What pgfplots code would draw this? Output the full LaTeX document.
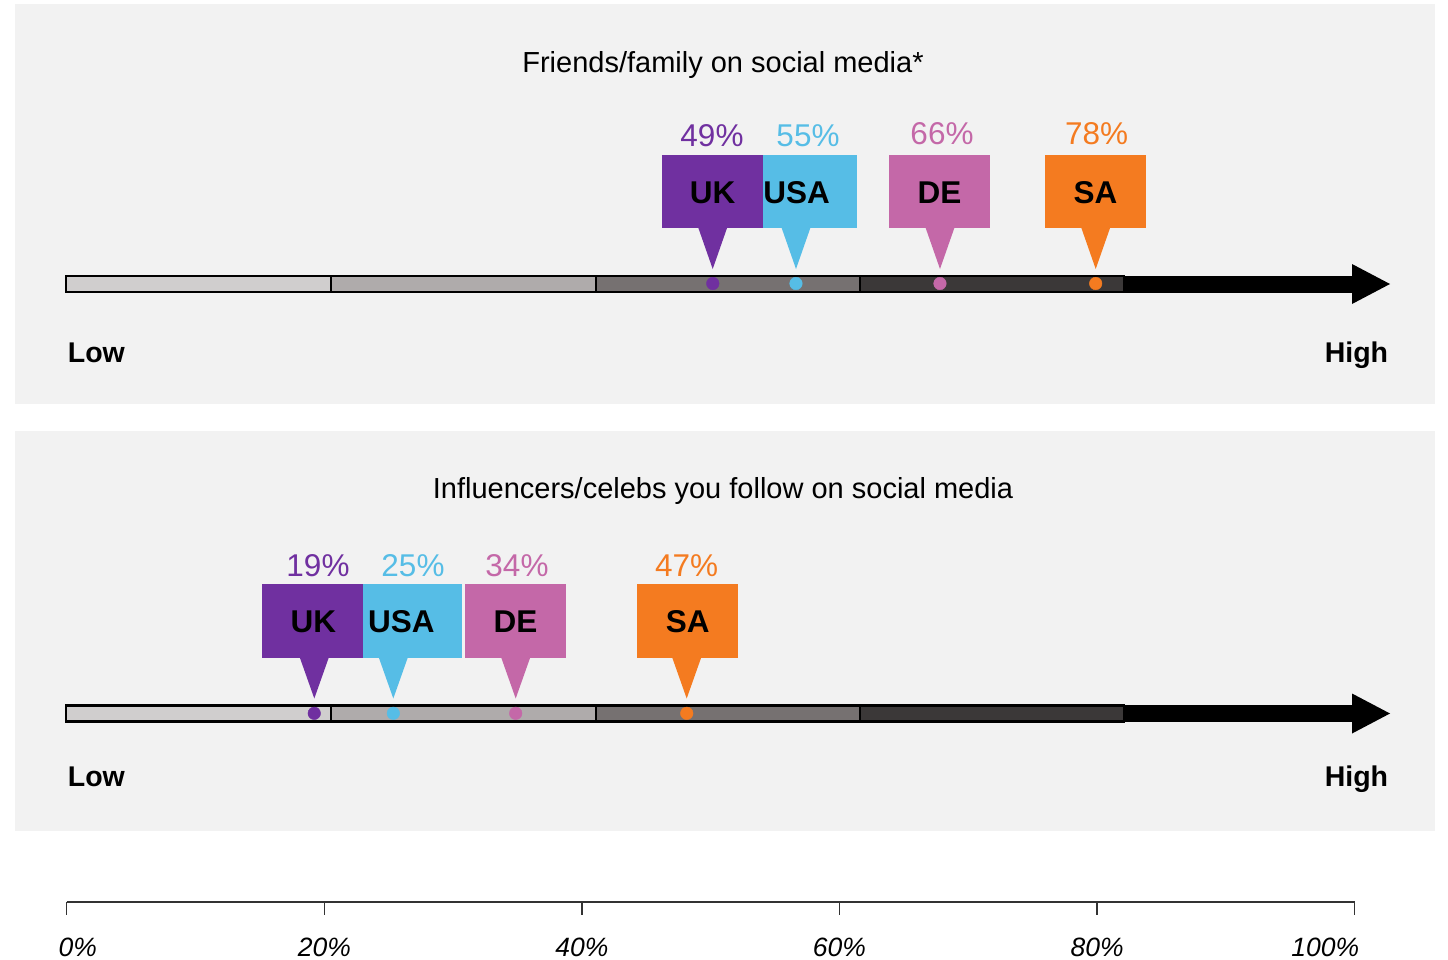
\documentclass[border=0pt]{standalone}
\usepackage{pgfplots}
\pgfplotsset{compat=1.18}
\usepackage{pgfplotstable}
\usepackage{fontspec}
\setmainfont{Liberation Sans}
\definecolor{bg}{HTML}{F2F2F2}
\definecolor{cUK}{HTML}{7030A0}
\definecolor{cUSA}{HTML}{56BDE6}
\definecolor{cDE}{HTML}{C468A8}
\definecolor{cSA}{HTML}{F47B20}
\definecolor{sA}{HTML}{D0CECE}
\definecolor{sB}{HTML}{AFABAB}
\definecolor{sC}{HTML}{767171}
\definecolor{sD}{HTML}{3B3838}

% value = printed share (%), pos = position of the marker on the 0-100 scale
\pgfplotstableread{
c value pos
UK 49 50.16
USA 55 56.62
DE 66 67.80
SA 78 79.89
}\friends
\pgfplotstableread{
c value pos
UK 19 19.22
USA 25 25.36
DE 34 34.86
SA 47 48.14
}\influencers

% bar with segments, dy = vertical offset of the panel
\newcommand{\scalebar}[1]{%
  \fill[sA] (66,{276+#1}) rectangle (331,{292+#1});
  \fill[sB] (331,{276+#1}) rectangle (596,{292+#1});
  \fill[sC] (596,{276+#1}) rectangle (860,{292+#1});
  \fill[sD] (860,{276+#1}) rectangle (1124,{292+#1});
  \draw[line width=2.4pt] (66,{276+#1}) rectangle (1124,{292+#1});
  \draw[line width=2.4pt] (331,{276+#1}) -- (331,{292+#1});
  \draw[line width=2.4pt] (596,{276+#1}) -- (596,{292+#1});
  \draw[line width=1.6pt] (860,{276+#1}) -- (860,{292+#1});
  \fill[black] (1124,{275.5+#1}) rectangle (1353,{292.5+#1});
  \fill[black] (1352,{264+#1}) -- (1390,{284+#1}) -- (1352,{304+#1}) -- cycle;
}
% callout: left, right, top, bottom, tip x, tip y, colour
\newcommand{\callout}[7]{%
  \fill[#7] (#1,#3) rectangle (#2,#4);
  \fill[#7] ({#5-14.5},{#4-0.5}) -- ({#5+14.5},{#4-0.5}) -- (#5,#6) -- cycle;
}

\tikzset{
  pct/.style={font=\fontsize{31.5}{36}\selectfont, inner sep=0pt, anchor=center},
  lab/.style={font=\fontsize{31.5}{36}\selectfont\bfseries, inner sep=0pt, anchor=center, text=black},
  ttl/.style={font=\fontsize{29}{34}\selectfont, inner sep=0pt, anchor=base},
  lh/.style={font=\fontsize{28.5}{34}\selectfont\bfseries, inner sep=0pt, anchor=base},
}

\begin{document}
\begin{tikzpicture}
\begin{axis}[
  at={(0,0)}, anchor=south west,
  scale only axis, width=1448pt, height=960pt,
  xmin=0, xmax=1448, ymin=0, ymax=960, y dir=reverse,
  hide axis, clip=false,
  scatter/classes={
    UK={mark=*, cUK}, USA={mark=*, cUSA}, DE={mark=*, cDE}, SA={mark=*, cSA}},
]
\path (0,0) rectangle (1448,960);
% panel backgrounds
\fill[bg] (15,4) rectangle (1435,404);
\fill[bg] (15,431) rectangle (1435,831);

% ---------------- top panel ----------------
\node[ttl] at (723,72.5) {Friends/family on social media*};
\scalebar{0}
\callout{763}{857}{155}{228}{796}{269}{cUSA}
\callout{662}{763}{155}{228}{712.7}{269}{cUK}
\callout{889}{990}{155}{228}{940}{269}{cDE}
\callout{1045}{1146}{155}{228}{1095.7}{269}{cSA}
\node[pct, text=cUK] at (712,135.6) {49\%};
\node[pct, text=cUSA] at (808,136) {55\%};
\node[pct, text=cDE] at (942,134) {66\%};
\node[pct, text=cSA] at (1096.7,133.5) {78\%};
\node[lab] at (712.5,193) {UK};
\node[lab] at (796.7,193) {USA};
\node[lab] at (939.5,193) {DE};
\node[lab] at (1095.5,193) {SA};
\addplot[scatter, only marks, scatter src=explicit symbolic, mark size=6.3pt]
  table[x expr=66.7+12.88*\thisrow{pos}, y expr=283.5, meta=c] {\friends};
\node[lh, anchor=base west] at (67.7,362.5) {Low};
\node[lh, anchor=base east] at (1388.3,362.5) {High};

% ---------------- bottom panel ----------------
\node[ttl] at (723,498.5) {Influencers/celebs you follow on social media};
\scalebar{429.5}
\callout{363}{462}{584}{658}{393.3}{698.5}{cUSA}
\callout{262}{363}{584}{658}{314.3}{698.5}{cUK}
\callout{465}{566}{584}{658}{515.7}{698.5}{cDE}
\callout{636.7}{738.3}{584}{658}{686.7}{698.5}{cSA}
\node[pct, text=cUK] at (318,565.3) {19\%};
\node[pct, text=cUSA] at (413,565.3) {25\%};
\node[pct, text=cDE] at (517,565.3) {34\%};
\node[pct, text=cSA] at (686.7,565.3) {47\%};
\node[lab] at (313.3,622) {UK};
\node[lab] at (401.3,622) {USA};
\node[lab] at (515.5,622) {DE};
\node[lab] at (687.7,622) {SA};
\addplot[scatter, only marks, scatter src=explicit symbolic, mark size=6.3pt]
  table[x expr=66.7+12.88*\thisrow{pos}, y expr=713.3, meta=c] {\influencers};
\node[lh, anchor=base west] at (67.7,786.5) {Low};
\node[lh, anchor=base east] at (1388.3,786.5) {High};
\end{axis}

% bottom percentage scale
\begin{axis}[
  at={(66.7pt,58pt)}, anchor=south west,
  scale only axis, width=1288pt, height=10pt,
  xmin=0, xmax=100, ymin=0, ymax=1,
  axis x line=bottom, hide y axis,
  x axis line style={-, line width=1.3pt, color=black!80},
  xtick={0,20,40,60,80,100},
  xticklabels={\kern22pt0\%,20\%,40\%,60\%,80\%,100\%\kern59pt},
  tick align=outside, major tick length=13pt,
  tick style={line width=1.3pt, color=black!80},
  xticklabel style={font=\fontsize{26.5}{30}\selectfont\itshape, yshift=-19pt},
  clip=false,
]
\addplot[draw=none] coordinates {(0,0) (100,1)};
\end{axis}
\end{tikzpicture}
\end{document}
